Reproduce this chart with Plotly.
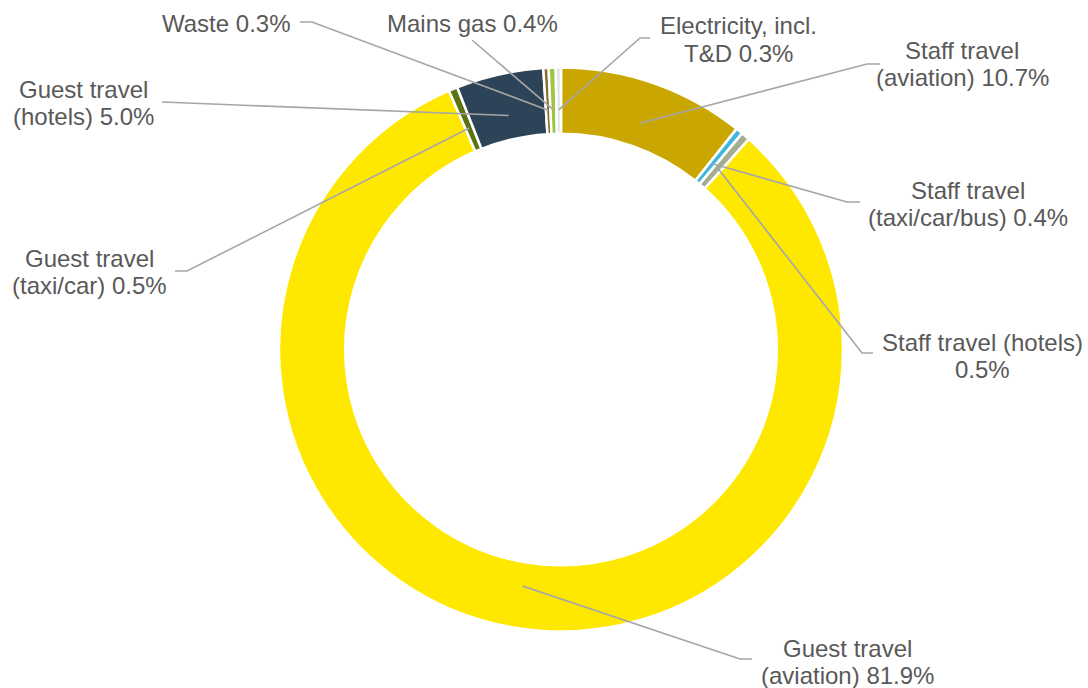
import math
import plotly.graph_objects as go

# ---- data (clockwise from 12 o'clock) ----
categories = [
    "Staff travel (aviation)", "Staff travel (taxi/car/bus)", "Staff travel (hotels)",
    "Guest travel (aviation)", "Guest travel (taxi/car)", "Guest travel (hotels)",
    "Waste", "Mains gas", "Electricity, incl. T&D",
]
values = [10.7, 0.4, 0.5, 81.9, 0.5, 5.0, 0.3, 0.4, 0.3]
label_texts = [
    "Staff travel<br>(aviation) 10.7%",
    "Staff travel<br>(taxi/car/bus) 0.4%",
    "Staff travel (hotels)<br>0.5%",
    "Guest travel<br>(aviation) 81.9%",
    "Guest travel<br>(taxi/car) 0.5%",
    "Guest travel<br>(hotels) 5.0%",
    "Waste 0.3%",
    "Mains gas 0.4%",
    "Electricity, incl.<br>T&D 0.3%",
]
colors = ["#C9A700", "#41B6DA", "#A4AD91", "#FFE800", "#5B7311", "#2D4458",
          "#8A6A2C", "#9CC640", "#DCE6EC"]

# ---- layout (pixels) ----
W, H = 1088, 688
CX, CY, R = 561, 349.5, 282
HOLE = 0.765
# label text centre (first line) and elbow of leader line
label_pos = [(962, 50), (968, 190), (982, 342), (847, 648), (89, 258), (83, 89),
             (226, 24), (472, 24), (738, 26)]
line_start = [(880, 64), (860, 202), (873, 353), (752, 659), (175, 271), (162, 102),
              (300, 22), (472, 40), (650, 38)]
elbow = [(867, 64), (847, 202), (862, 353), (740, 659), (187, 271), None,
         (312, 22), None, (640, 38)]
LINE_GAP = 27.5

def px(x):
    return x / W

def py(y):
    return 1 - y / H

fig = go.Figure(go.Pie(
    labels=categories, values=values, sort=False, direction="clockwise", rotation=0,
    hole=HOLE, textinfo="none", hoverinfo="label+percent",
    marker=dict(colors=colors, line=dict(color="white", width=2.5)),
    domain=dict(x=[px(CX - R), px(CX + R)], y=[py(CY + R), py(CY - R)]),
    showlegend=False,
))

total = sum(values)
shapes, annotations = [], []
cum = 0.0
for i, v in enumerate(values):
    mid = 2 * math.pi * (cum + v / 2) / total
    cum += v
    ra = R * 0.85
    ax_, ay_ = CX + ra * math.sin(mid), CY - ra * math.cos(mid)
    pts = [line_start[i]] + ([elbow[i]] if elbow[i] else []) + [(ax_, ay_)]
    path = "M " + " L ".join(f"{px(x):.5f},{py(y):.5f}" for x, y in pts)
    shapes.append(dict(type="path", path=path, xref="paper", yref="paper",
                       line=dict(color="#A6A6A6", width=1.6)))
    lx, ly = label_pos[i]
    for j, ln in enumerate(label_texts[i].split("<br>")):
        annotations.append(dict(
            x=px(lx), y=py(ly + j * LINE_GAP), xref="paper", yref="paper",
            text=ln, showarrow=False, xanchor="center", yanchor="middle",
            font=dict(family="Liberation Sans, Arial, sans-serif", size=24, color="#595959"),
        ))

fig.update_layout(
    width=W, height=H, margin=dict(l=0, r=0, t=0, b=0),
    paper_bgcolor="white", plot_bgcolor="white",
    shapes=shapes, annotations=annotations,
)
fig.write_html("out.html")
